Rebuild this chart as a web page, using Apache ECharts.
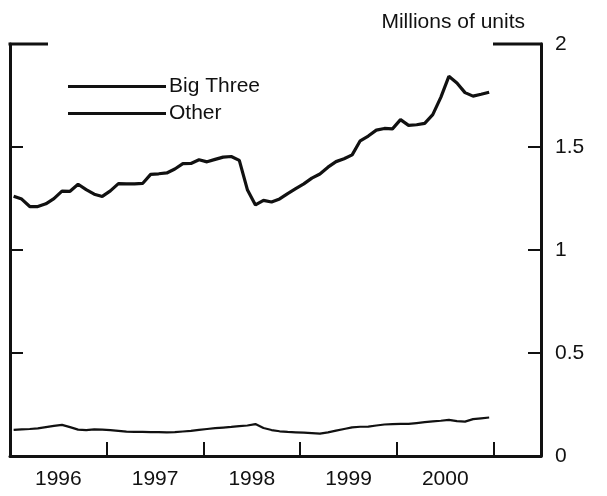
<!DOCTYPE html>
<html>
<head>
<meta charset="utf-8">
<script src="https://cdn.jsdelivr.net/npm/echarts@6/dist/echarts.min.js"></script>
<style>
html,body{margin:0;padding:0;background:#fff;}
#chart{width:607px;height:496px;}
</style>
</head>
<body>
<div id="chart"></div>
<script>
// Monthly data, Jan 1996 - Dec 2000 (millions of units)
const startYear = 1996;
const bigThree = [
  1.261, 1.247, 1.211, 1.211, 1.224, 1.249, 1.286, 1.285, 1.319, 1.293, 1.271, 1.260,
  1.287, 1.322, 1.321, 1.321, 1.323, 1.367, 1.370, 1.374, 1.393, 1.419, 1.420, 1.438,
  1.428, 1.440, 1.451, 1.454, 1.435, 1.293, 1.219, 1.241, 1.233, 1.248, 1.274, 1.298,
  1.321, 1.349, 1.369, 1.402, 1.429, 1.443, 1.462, 1.530, 1.553, 1.582, 1.590, 1.588,
  1.633, 1.605, 1.608, 1.615, 1.657, 1.741, 1.843, 1.811, 1.764, 1.747, 1.756, 1.766
];
const other = [
  0.127, 0.129, 0.131, 0.134, 0.140, 0.146, 0.151, 0.140, 0.128, 0.126, 0.129, 0.128,
  0.126, 0.122, 0.118, 0.117, 0.117, 0.116, 0.116, 0.115, 0.116, 0.119, 0.122, 0.127,
  0.131, 0.135, 0.138, 0.141, 0.145, 0.148, 0.155, 0.136, 0.126, 0.120, 0.117, 0.115,
  0.113, 0.111, 0.109, 0.115, 0.123, 0.131, 0.139, 0.142, 0.143, 0.148, 0.153, 0.155,
  0.156, 0.156, 0.160, 0.164, 0.168, 0.171, 0.175, 0.169, 0.167, 0.179, 0.183, 0.187
];
const yearLabels = ['1996', '1997', '1998', '1999', '2000'];
const yTicks = [0, 0.5, 1, 1.5, 2];

function toPairs(arr) {
  return arr.map((v, i) => [startYear + (i + 0.45) / 12, v]);
}

const chart = echarts.init(document.getElementById('chart'));
const font = '"Liberation Sans", Arial, Helvetica, sans-serif';
const gridLeft = 10, gridRight = 66, gridTop = 44, gridBottom = 40;
const xMax = 2001.49;
const pxPerYear = (607 - gridLeft - gridRight) / (xMax - startYear);

chart.setOption({
  animation: false,
  backgroundColor: '#fff',
  title: {
    text: 'Millions of units',
    right: 77, top: 7,
    textStyle: { fontFamily: font, fontSize: 21, fontWeight: 'normal', color: '#111' }
  },
  legend: {
    orient: 'vertical',
    left: 63, top: 71,
    itemWidth: 98, itemHeight: 3,
    itemGap: 6,
    icon: 'rect',
    textStyle: { fontFamily: font, fontSize: 21, lineHeight: 21, color: '#111', padding: [0, 0, 0, -2] },
    data: ['Big Three', 'Other']
  },
  grid: { left: gridLeft, right: gridRight, top: gridTop, bottom: gridBottom },
  xAxis: {
    type: 'value',
    min: startYear, max: xMax, interval: 1,
    axisLine: { show: true, lineStyle: { color: '#111', width: 3 } },
    axisTick: { show: true, inside: true, length: 14, lineStyle: { color: '#111', width: 2 } },
    splitLine: { show: false },
    axisLabel: {
      fontFamily: font, fontSize: 21, color: '#111', margin: 13,
      padding: [0, 0, 0, pxPerYear],
      showMaxLabel: false,
      formatter: v => {
        const idx = Math.round(v) - startYear;
        return (Math.abs(v - Math.round(v)) < 1e-6 && idx >= 0 && idx < yearLabels.length) ? yearLabels[idx] : '';
      }
    }
  },
  yAxis: [
    {
      type: 'value', position: 'right',
      min: 0, max: 2, interval: 0.5,
      axisLine: { show: true, lineStyle: { color: '#111', width: 3 } },
      axisTick: { show: true, inside: true, length: 13, lineStyle: { color: '#111', width: 2 } },
      splitLine: { show: false },
      axisLabel: {
        fontFamily: font, fontSize: 21, color: '#111', margin: 14,
        formatter: v => {
          const t = yTicks.find(x => Math.abs(x - v) < 1e-6);
          return t === undefined ? '' : String(t);
        }
      }
    },
    {
      type: 'value', position: 'left',
      min: 0, max: 2, interval: 0.5,
      axisLine: { show: true, onZero: false, lineStyle: { color: '#111', width: 3 } },
      axisTick: { show: true, inside: true, length: 13, lineStyle: { color: '#111', width: 2 } },
      splitLine: { show: false },
      axisLabel: { show: false }
    }
  ],
  graphic: [
    { type: 'line', shape: { x1: gridLeft - 1.5, y1: gridTop, x2: 48, y2: gridTop },
      style: { stroke: '#111', lineWidth: 3 } },
    { type: 'line', shape: { x1: 493, y1: gridTop, x2: 607 - gridRight + 1.5, y2: gridTop },
      style: { stroke: '#111', lineWidth: 3 } }
  ],
  series: [
    {
      name: 'Big Three', type: 'line', yAxisIndex: 0,
      data: toPairs(bigThree), symbol: 'none',
      lineStyle: { color: '#111', width: 3.2 }, itemStyle: { color: '#111' }
    },
    {
      name: 'Other', type: 'line', yAxisIndex: 0,
      data: toPairs(other), symbol: 'none',
      lineStyle: { color: '#111', width: 2.2 }, itemStyle: { color: '#111' }
    }
  ]
});
</script>
</body>
</html>
